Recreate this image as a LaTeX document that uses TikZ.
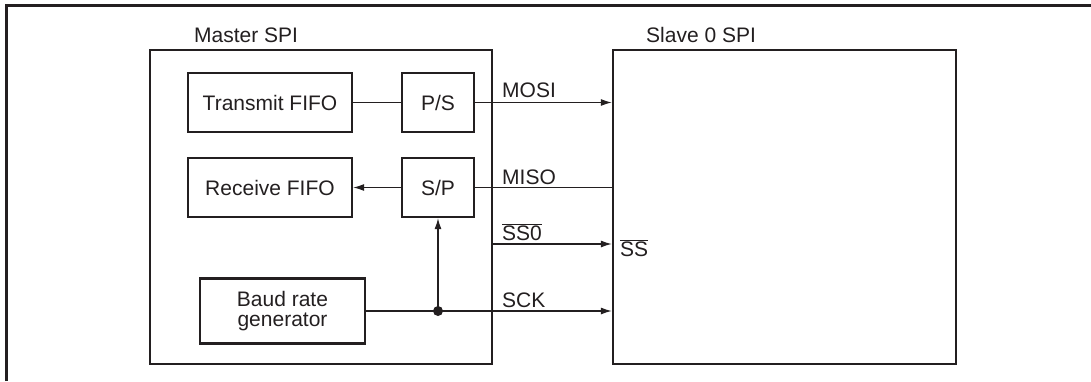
\documentclass[tikz,border=0pt]{standalone}
\usepackage{fontspec}
\setmainfont{Liberation Sans}
\usetikzlibrary{arrows.meta}
\definecolor{ink}{HTML}{231F20}
\begin{document}
\begin{tikzpicture}[x=1pt,y=-1pt,
  every node/.style={font=\fontsize{21}{23}\selectfont, text=ink},
  blk/.style={draw=ink, line width=2.4pt, inner sep=0pt, align=center},
  wire/.style={draw=ink, line width=1.1pt},
  arr/.style={wire, -{Latex[length=11pt,width=7pt]}},
  lbl/.style={anchor=base west, inner sep=0pt}]
\useasboundingbox (0,0) rectangle (1091,381);
\draw[ink, line width=3pt] (6.5,381) -- (6.5,5) -- (1091,5);
% containers
\node[blk, minimum width=342pt, minimum height=314pt] (master) at (321,207) {};
\node[blk, minimum width=343pt, minimum height=314pt] (slave) at (784.5,207) {};
\node[lbl] (mlab) at (194,42) {Master SPI};
\node[lbl] (slab) at (646,42) {Slave 0 SPI};
% inner blocks
\node[blk, minimum width=164pt, minimum height=59pt] (tx) at (270,102.5) {Transmit FIFO};
\node[blk, minimum width=164pt, minimum height=59pt] (rx) at (270,187.5) {Receive FIFO};
\node[blk, minimum width=72pt, minimum height=59pt] (ps) at (438,102.5) {P/S};
\node[blk, minimum width=72pt, minimum height=59pt] (sp) at (438,187.5) {S/P};
\node[blk, minimum width=165pt, minimum height=65pt] (baud) at (282.5,311) {Baud rate\\[-3pt]generator};
% connectors
\draw[wire] (tx.east) -- (ps.west);
\draw[arr] (ps.east) -- (ps.east -| slave.west);
\draw[wire] (slave.west |- sp.east) -- (sp.east);
\draw[arr] (sp.west) -- (rx.east);
\coordinate (ss0) at (master.east |- 0,244);
\draw[arr] (ss0) -- (ss0 -| slave.west);
\draw[arr] (baud.east) -- (baud.east -| slave.west);
\node[circle, fill=ink, inner sep=0pt, minimum size=10pt] (dot) at (sp.south |- baud.east) {};
\draw[arr] (dot.center) -- (sp.south);
% signal labels
\node[lbl] (mosi) at (502,97) {MOSI};
\node[lbl] (miso) at (502,184) {MISO};
\node[lbl] (sslab) at (502,240) {$\overline{\mbox{SS0}}$};
\node[lbl] (sck) at (502,307) {SCK};
\node[lbl] (ss) at (620,256) {$\overline{\mbox{SS}}$};
\end{tikzpicture}
\end{document}
